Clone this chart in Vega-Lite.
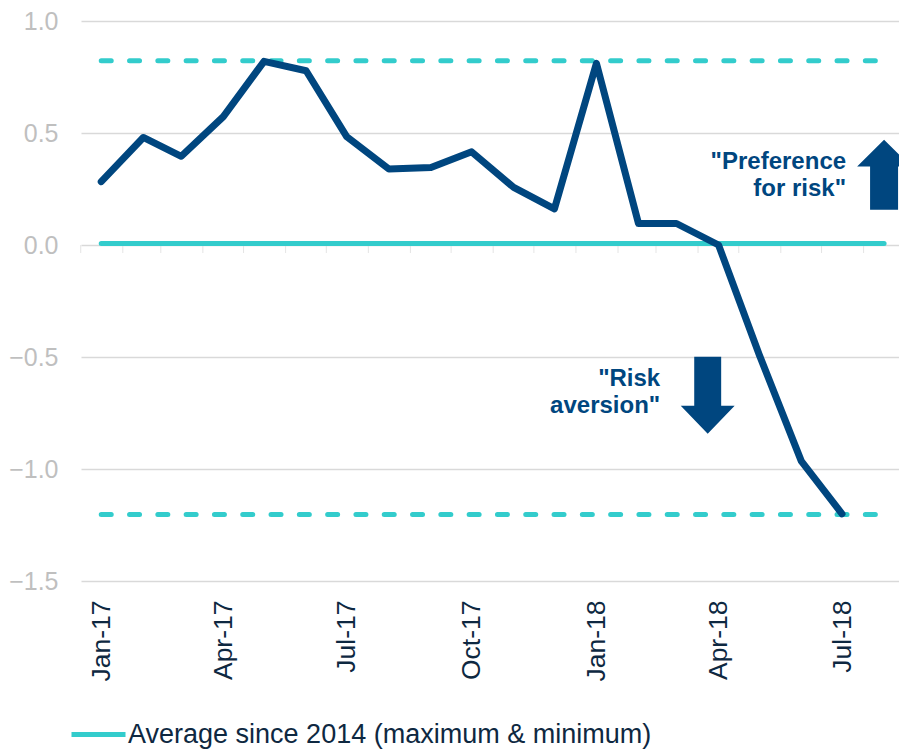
{
  "$schema": "https://vega.github.io/schema/vega-lite/v6.json",
  "width": 818,
  "height": 560,
  "autosize": {"type": "none"},
  "padding": {"left": 81, "top": 21, "right": 0, "bottom": 170},
  "background": "white",
  "config": {"font": "Liberation Sans", "view": {"stroke": null}},
  "data": {
    "values": [
      {"date": "2017-01-01", "index": 0.283, "avg": 0.007, "max": 0.823, "min": -1.203},
      {"date": "2017-02-01", "index": 0.48, "avg": 0.007, "max": 0.823, "min": -1.203},
      {"date": "2017-03-01", "index": 0.396, "avg": 0.007, "max": 0.823, "min": -1.203},
      {"date": "2017-04-01", "index": 0.573, "avg": 0.007, "max": 0.823, "min": -1.203},
      {"date": "2017-05-01", "index": 0.82, "avg": 0.007, "max": 0.823, "min": -1.203},
      {"date": "2017-06-01", "index": 0.778, "avg": 0.007, "max": 0.823, "min": -1.203},
      {"date": "2017-07-01", "index": 0.483, "avg": 0.007, "max": 0.823, "min": -1.203},
      {"date": "2017-08-01", "index": 0.339, "avg": 0.007, "max": 0.823, "min": -1.203},
      {"date": "2017-09-01", "index": 0.346, "avg": 0.007, "max": 0.823, "min": -1.203},
      {"date": "2017-10-01", "index": 0.416, "avg": 0.007, "max": 0.823, "min": -1.203},
      {"date": "2017-11-01", "index": 0.257, "avg": 0.007, "max": 0.823, "min": -1.203},
      {"date": "2017-12-01", "index": 0.161, "avg": 0.007, "max": 0.823, "min": -1.203},
      {"date": "2018-01-01", "index": 0.811, "avg": 0.007, "max": 0.823, "min": -1.203},
      {"date": "2018-02-01", "index": 0.096, "avg": 0.007, "max": 0.823, "min": -1.203},
      {"date": "2018-03-01", "index": 0.096, "avg": 0.007, "max": 0.823, "min": -1.203},
      {"date": "2018-04-01", "index": 0.0, "avg": 0.007, "max": 0.823, "min": -1.203},
      {"date": "2018-05-01", "index": -0.49, "avg": 0.007, "max": 0.823, "min": -1.203},
      {"date": "2018-06-01", "index": -0.965, "avg": 0.007, "max": 0.823, "min": -1.203},
      {"date": "2018-07-01", "index": -1.2, "avg": 0.007, "max": 0.823, "min": -1.203},
      {"date": "2018-08-01", "index": null, "avg": 0.007, "max": 0.823, "min": -1.203}
    ]
  },
  "encoding": {
    "x": {
      "field": "date",
      "type": "temporal",
      "scale": {
        "type": "utc",
        "domain": [
          {"year": 2016, "month": 12, "date": 17, "hours": 2, "utc": true},
          {"year": 2018, "month": 8, "date": 12, "utc": true}
        ]
      },
      "axis": {
        "title": null,
        "tickCount": {"interval": "month", "step": 3},
        "format": "%b-%y",
        "labelAngle": 270,
        "labelFontSize": 26.5,
        "labelFont": "Liberation Sans",
        "labelColor": "#0e2841",
        "domain": false,
        "ticks": false,
        "tickSize": 0,
        "grid": false,
        "labelPadding": 19,
        "labelFlush": false,
        "labelOverlap": false,
        "labelBound": false
      }
    }
  },
  "layer": [
    {
      "mark": {"type": "line", "color": "#33CCCC", "strokeWidth": 5, "strokeDash": [10, 18.3], "strokeCap": "round"},
      "encoding": {
        "y": {
          "field": "max",
          "type": "quantitative",
          "title": null,
          "scale": {"domain": [-1.5, 1], "nice": false},
          "axis": {
            "title": null,
            "values": [-1.5, -1, -0.5, 0, 0.5, 1],
            "format": ".1f",
            "labelFontSize": 25,
            "labelFont": "Liberation Sans",
            "labelColor": "#bfbfbf",
            "domain": false,
            "ticks": false,
            "tickSize": 0,
            "grid": true,
            "gridColor": "#d9d9d9",
            "gridWidth": 1.5,
            "labelPadding": 23
          }
        }
      }
    },
    {
      "mark": {"type": "tick", "orient": "vertical", "size": 8, "thickness": 1, "color": "#d9d9d9", "xOffset": -20.5, "yOffset": 4},
      "encoding": {
        "y": {"datum": 0, "type": "quantitative", "title": null, "scale": {"domain": [-1.5, 1], "nice": false}}
      }
    },
    {
      "mark": {"type": "line", "color": "#33CCCC", "strokeWidth": 5, "strokeDash": [10, 18.3], "strokeCap": "round"},
      "encoding": {"y": {"field": "min", "type": "quantitative", "title": null, "scale": {"domain": [-1.5, 1], "nice": false}}}
    },
    {
      "mark": {"type": "line", "strokeWidth": 5, "strokeCap": "round"},
      "encoding": {
        "y": {"field": "avg", "type": "quantitative", "title": null, "scale": {"domain": [-1.5, 1], "nice": false}},
        "color": {
          "datum": "Average since 2014 (maximum & minimum)",
          "scale": {"range": ["#33CCCC"]},
          "legend": {
            "orient": "none",
            "legendX": -12,
            "legendY": 684,
            "title": null,
            "symbolType": "stroke",
            "symbolSize": 2916,
            "symbolStrokeWidth": 5,
            "labelFontSize": 27,
            "labelFont": "Liberation Sans",
            "labelColor": "#0e2841",
            "labelOffset": 0,
            "labelLimit": 0
          }
        }
      }
    },
    {
      "mark": {"type": "line", "color": "#00467F", "strokeWidth": 7, "strokeCap": "round", "strokeJoin": "round"},
      "encoding": {"y": {"field": "index", "type": "quantitative", "title": null, "scale": {"domain": [-1.5, 1], "nice": false}}}
    },
    {
      "data": {"values": [{"date": "2018-08-01", "value": 0.314}]},
      "mark": {"type": "point", "shape": "M 0 -1 L 0.77 -0.23 L 0.4 -0.23 L 0.4 1 L -0.4 1 L -0.4 -0.23 L -0.77 -0.23 Z", "size": 4900, "filled": true, "color": "#00467F", "opacity": 1, "strokeWidth": 0},
      "encoding": {"y": {"field": "value", "type": "quantitative", "title": null, "scale": {"domain": [-1.5, 1], "nice": false}}}
    },
    {
      "data": {"values": [{"date": "2018-03-24", "value": -0.671}]},
      "mark": {"type": "point", "shape": "M -0.35 -1 L 0.35 -1 L 0.35 0.27 L 0.7 0.27 L 0 1 L -0.7 0.27 L -0.35 0.27 Z", "size": 5929, "filled": true, "color": "#00467F", "opacity": 1, "strokeWidth": 0},
      "encoding": {"y": {"field": "value", "type": "quantitative", "title": null, "scale": {"domain": [-1.5, 1], "nice": false}}}
    },
    {
      "data": {
        "values": [
          {"date": "2018-07-04", "value": 0.341, "label": "\"Preference\nfor risk\""},
          {"date": "2018-02-17", "value": -0.628, "label": "\"Risk\naversion\""}
        ]
      },
      "mark": {"type": "text", "align": "right", "baseline": "alphabetic", "lineBreak": "\n", "lineHeight": 27, "fontSize": 24, "fontWeight": "bold", "color": "#00467F", "font": "Liberation Sans"},
      "encoding": {
        "y": {"field": "value", "type": "quantitative", "title": null, "scale": {"domain": [-1.5, 1], "nice": false}},
        "text": {"field": "label"}
      }
    }
  ]
}
